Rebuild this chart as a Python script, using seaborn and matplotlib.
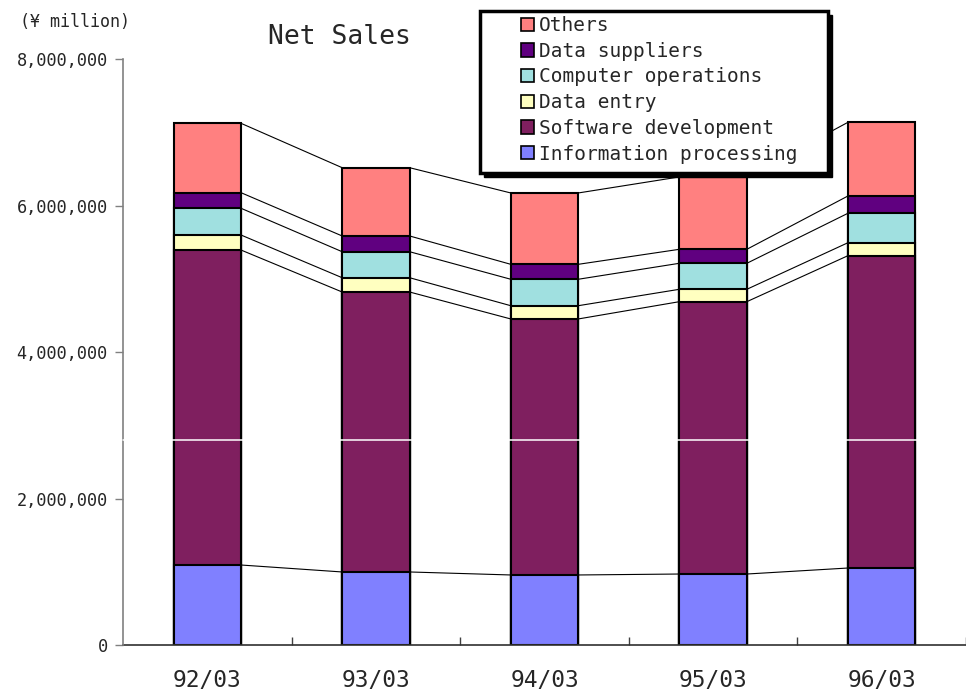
import numpy as np
import pandas as pd
import matplotlib
matplotlib.use("Agg")
import matplotlib.pyplot as plt
from matplotlib.patches import Patch, Rectangle
from matplotlib.ticker import FuncFormatter, FixedLocator
import seaborn as sns

# ---- data ----
periods = ["92/03", "93/03", "94/03", "95/03", "96/03"]
information_processing = [1092000, 997000, 956000, 969000, 1051000]
software_development = [4300000, 3822000, 3495000, 3718000, 4264000]
data_entry = [205000, 195000, 181000, 169000, 177000]
computer_operations = [365000, 355000, 361000, 355000, 402000]
data_suppliers = [213000, 215000, 204000, 191000, 236000]
others = [947000, 932000, 974000, 988000, 1006000]

series_names = ["Information processing", "Software development", "Data entry",
                "Computer operations", "Data suppliers", "Others"]
series_values = [information_processing, software_development, data_entry,
                 computer_operations, data_suppliers, others]
series_colors = ["#8080FF", "#7F1F5F", "#FFFFC0", "#A0E0E0", "#600080", "#FF8080"]

y_ticks = [0, 2000000, 4000000, 6000000, 8000000]

# ---- figure ----
sns.set_style("white")
plt.rcParams["font.family"] = ["DejaVu Sans Mono", "DejaVu Sans"]

W, H = 966, 692
fig = plt.figure(figsize=(W / 100, H / 100), dpi=100)
ax_left, ax_right, ax_top, ax_bottom = 123, 966, 59, 645
cat_px = 170
ax = fig.add_axes([ax_left / W, (H - ax_bottom) / H,
                   (ax_right - ax_left) / W, (ax_bottom - ax_top) / H])

df = pd.DataFrame({"period": periods})
cum = np.cumsum(np.array(series_values, dtype=float), axis=0)

bar_w = 0.4
# draw from tallest cumulative to shortest so each layer overlays the previous
for k in range(len(series_names) - 1, -1, -1):
    df["v"] = cum[k]
    sns.barplot(data=df, x="period", y="v", color=series_colors[k], saturation=1,
                width=bar_w, edgecolor="black", linewidth=1.5, ax=ax, zorder=2)

# connector (series) lines
n = len(periods)
for k in range(len(series_names)):
    for i in range(n - 1):
        ax.plot([i + bar_w / 2, i + 1 - bar_w / 2], [cum[k][i], cum[k][i + 1]],
                color="black", lw=0.8, zorder=1.5)

ax.set_xlim(-0.5, -0.5 + (ax_right - ax_left) / cat_px)
ax.set_ylim(0, 8000000)
ax.set_xlabel("")
ax.set_ylabel("")

ax.yaxis.set_major_locator(FixedLocator(y_ticks))
ax.yaxis.set_major_formatter(FuncFormatter(lambda v, p: f"{int(v):,}"))
ax.tick_params(axis="y", direction="out", length=6, width=1, color="#808080",
               labelsize=12.2, pad=5, left=True)
ax.tick_params(axis="x", which="major", length=0, labelsize=16.5, pad=17)
ax.set_xticks(range(n))
ax.set_xticklabels(periods)
ax.set_xticks([i + 0.5 for i in range(n)], minor=True)
ax.tick_params(axis="x", which="minor", direction="in", length=6, width=1,
               color="#404040", bottom=True)

for s in ["top", "right"]:
    ax.spines[s].set_visible(False)
ax.spines["left"].set_color("#808080")
ax.spines["left"].set_linewidth(1.2)
ax.spines["bottom"].set_color("#303030")
ax.spines["bottom"].set_linewidth(1.2)
ax.spines["left"].set_zorder(3)

# thin white scan line across the chart
ax.axhline(2800000, color="white", lw=1.1, zorder=10, clip_on=False)

# texts
fig.text(339 / W, 1 - 37 / H, "Net Sales", ha="center", va="center", fontsize=19)
fig.text(75 / W, 1 - 22 / H, "(¥ million)", ha="center", va="center", fontsize=12)

# legend frame with shadow
lx0, ly0, lx1, ly1 = 480, 11, 828, 173
sh = 4
fig.patches.append(Rectangle(((lx0 + sh) / W, 1 - (ly1 + sh) / H), (lx1 - lx0) / W,
                             (ly1 - ly0) / H, transform=fig.transFigure,
                             facecolor="black", edgecolor="black", zorder=3))
fig.patches.append(Rectangle((lx0 / W, 1 - ly1 / H), (lx1 - lx0) / W, (ly1 - ly0) / H,
                             transform=fig.transFigure, facecolor="white",
                             edgecolor="black", linewidth=2.5, zorder=4))

handles = [Patch(facecolor=series_colors[k], edgecolor="black", linewidth=1.2)
           for k in range(len(series_names) - 1, -1, -1)]
labels = [series_names[k] for k in range(len(series_names) - 1, -1, -1)]
leg = fig.legend(handles, labels, loc="upper left",
                 bbox_to_anchor=(521 / W, 1 - 16 / H), frameon=False,
                 borderpad=0, borderaxespad=0, handlelength=0.68, handleheight=0.68,
                 handletextpad=0.25, labelspacing=0.345, fontsize=14)
leg.set_zorder(6)

fig.savefig("out.png", dpi=100)
